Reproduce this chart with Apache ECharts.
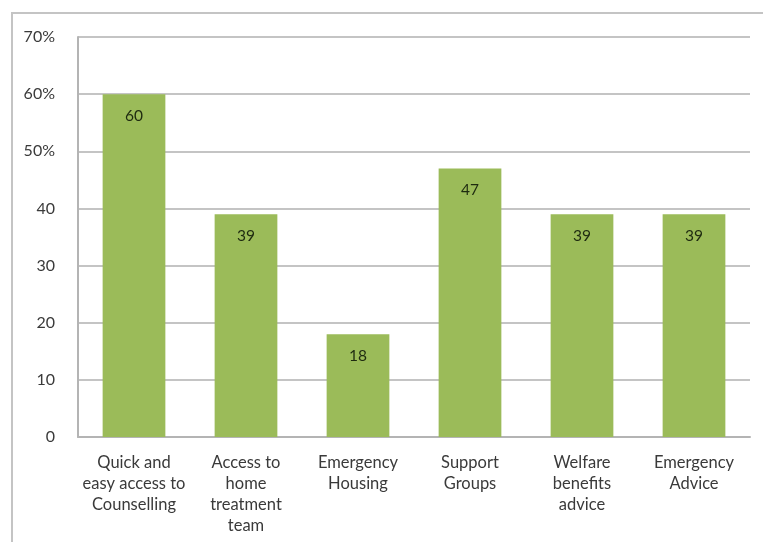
<!DOCTYPE html>
<html>
<head>
<meta charset="utf-8">
<script src="https://cdn.jsdelivr.net/npm/echarts@6/dist/echarts.min.js"></script>
<style>
  html, body { margin: 0; padding: 0; background: #ffffff; }
  #chart { width: 763px; height: 542px; }
</style>
</head>
<body>
<div id="chart"></div>
<script>
// Support services, share of respondents
const categories = [
  'Quick and\neasy access to\nCounselling',
  'Access to\nhome\ntreatment\nteam',
  'Emergency\nHousing',
  'Support\nGroups',
  'Welfare\nbenefits\nadvice',
  'Emergency\nAdvice'
];
const values = [60, 39, 18, 47, 39, 39];
const tickLabels = ['0', '10', '20', '30', '40', '50%', '60%', '70%'];

const FONT = 'Lato, "Open Sans", sans-serif';
const chart = echarts.init(document.getElementById('chart'), null, { renderer: 'canvas' });

chart.setOption({
  backgroundColor: '#ffffff',
  animation: false,
  graphic: [{
    type: 'rect',
    shape: { x: 12, y: 13, width: 800, height: 600 },
    style: { fill: 'none', stroke: '#c4c4c4', lineWidth: 2 }
  }],
  grid: { left: 78, right: 13, top: 37, bottom: 105 },
  xAxis: {
    type: 'category',
    data: categories,
    axisTick: { show: false },
    axisLine: { lineStyle: { color: '#b4b4b4', width: 2 } },
    axisLabel: {
      color: '#3a3a3a',
      fontFamily: FONT,
      fontSize: 16.5,
      lineHeight: 21,
      margin: 15,
      interval: 0
    }
  },
  yAxis: {
    type: 'value',
    min: 0,
    max: 70,
    interval: 10,
    axisLine: { show: true, lineStyle: { color: '#b4b4b4', width: 2 } },
    axisTick: { show: false },
    splitLine: { lineStyle: { color: '#c4c4c4', width: 2 } },
    axisLabel: {
      color: '#3a3a3a',
      fontFamily: FONT,
      fontSize: 16,
      margin: 23,
      formatter: function (v) { return tickLabels[Math.round(v / 10)]; }
    }
  },
  series: [{
    type: 'bar',
    data: values,
    barWidth: '56%',
    itemStyle: { color: '#9bbb59' },
    label: {
      show: true,
      position: 'insideTop',
      distance: 14,
      color: '#1e2a10',
      fontFamily: FONT,
      fontSize: 15.5
    }
  }]
});
</script>
</body>
</html>
